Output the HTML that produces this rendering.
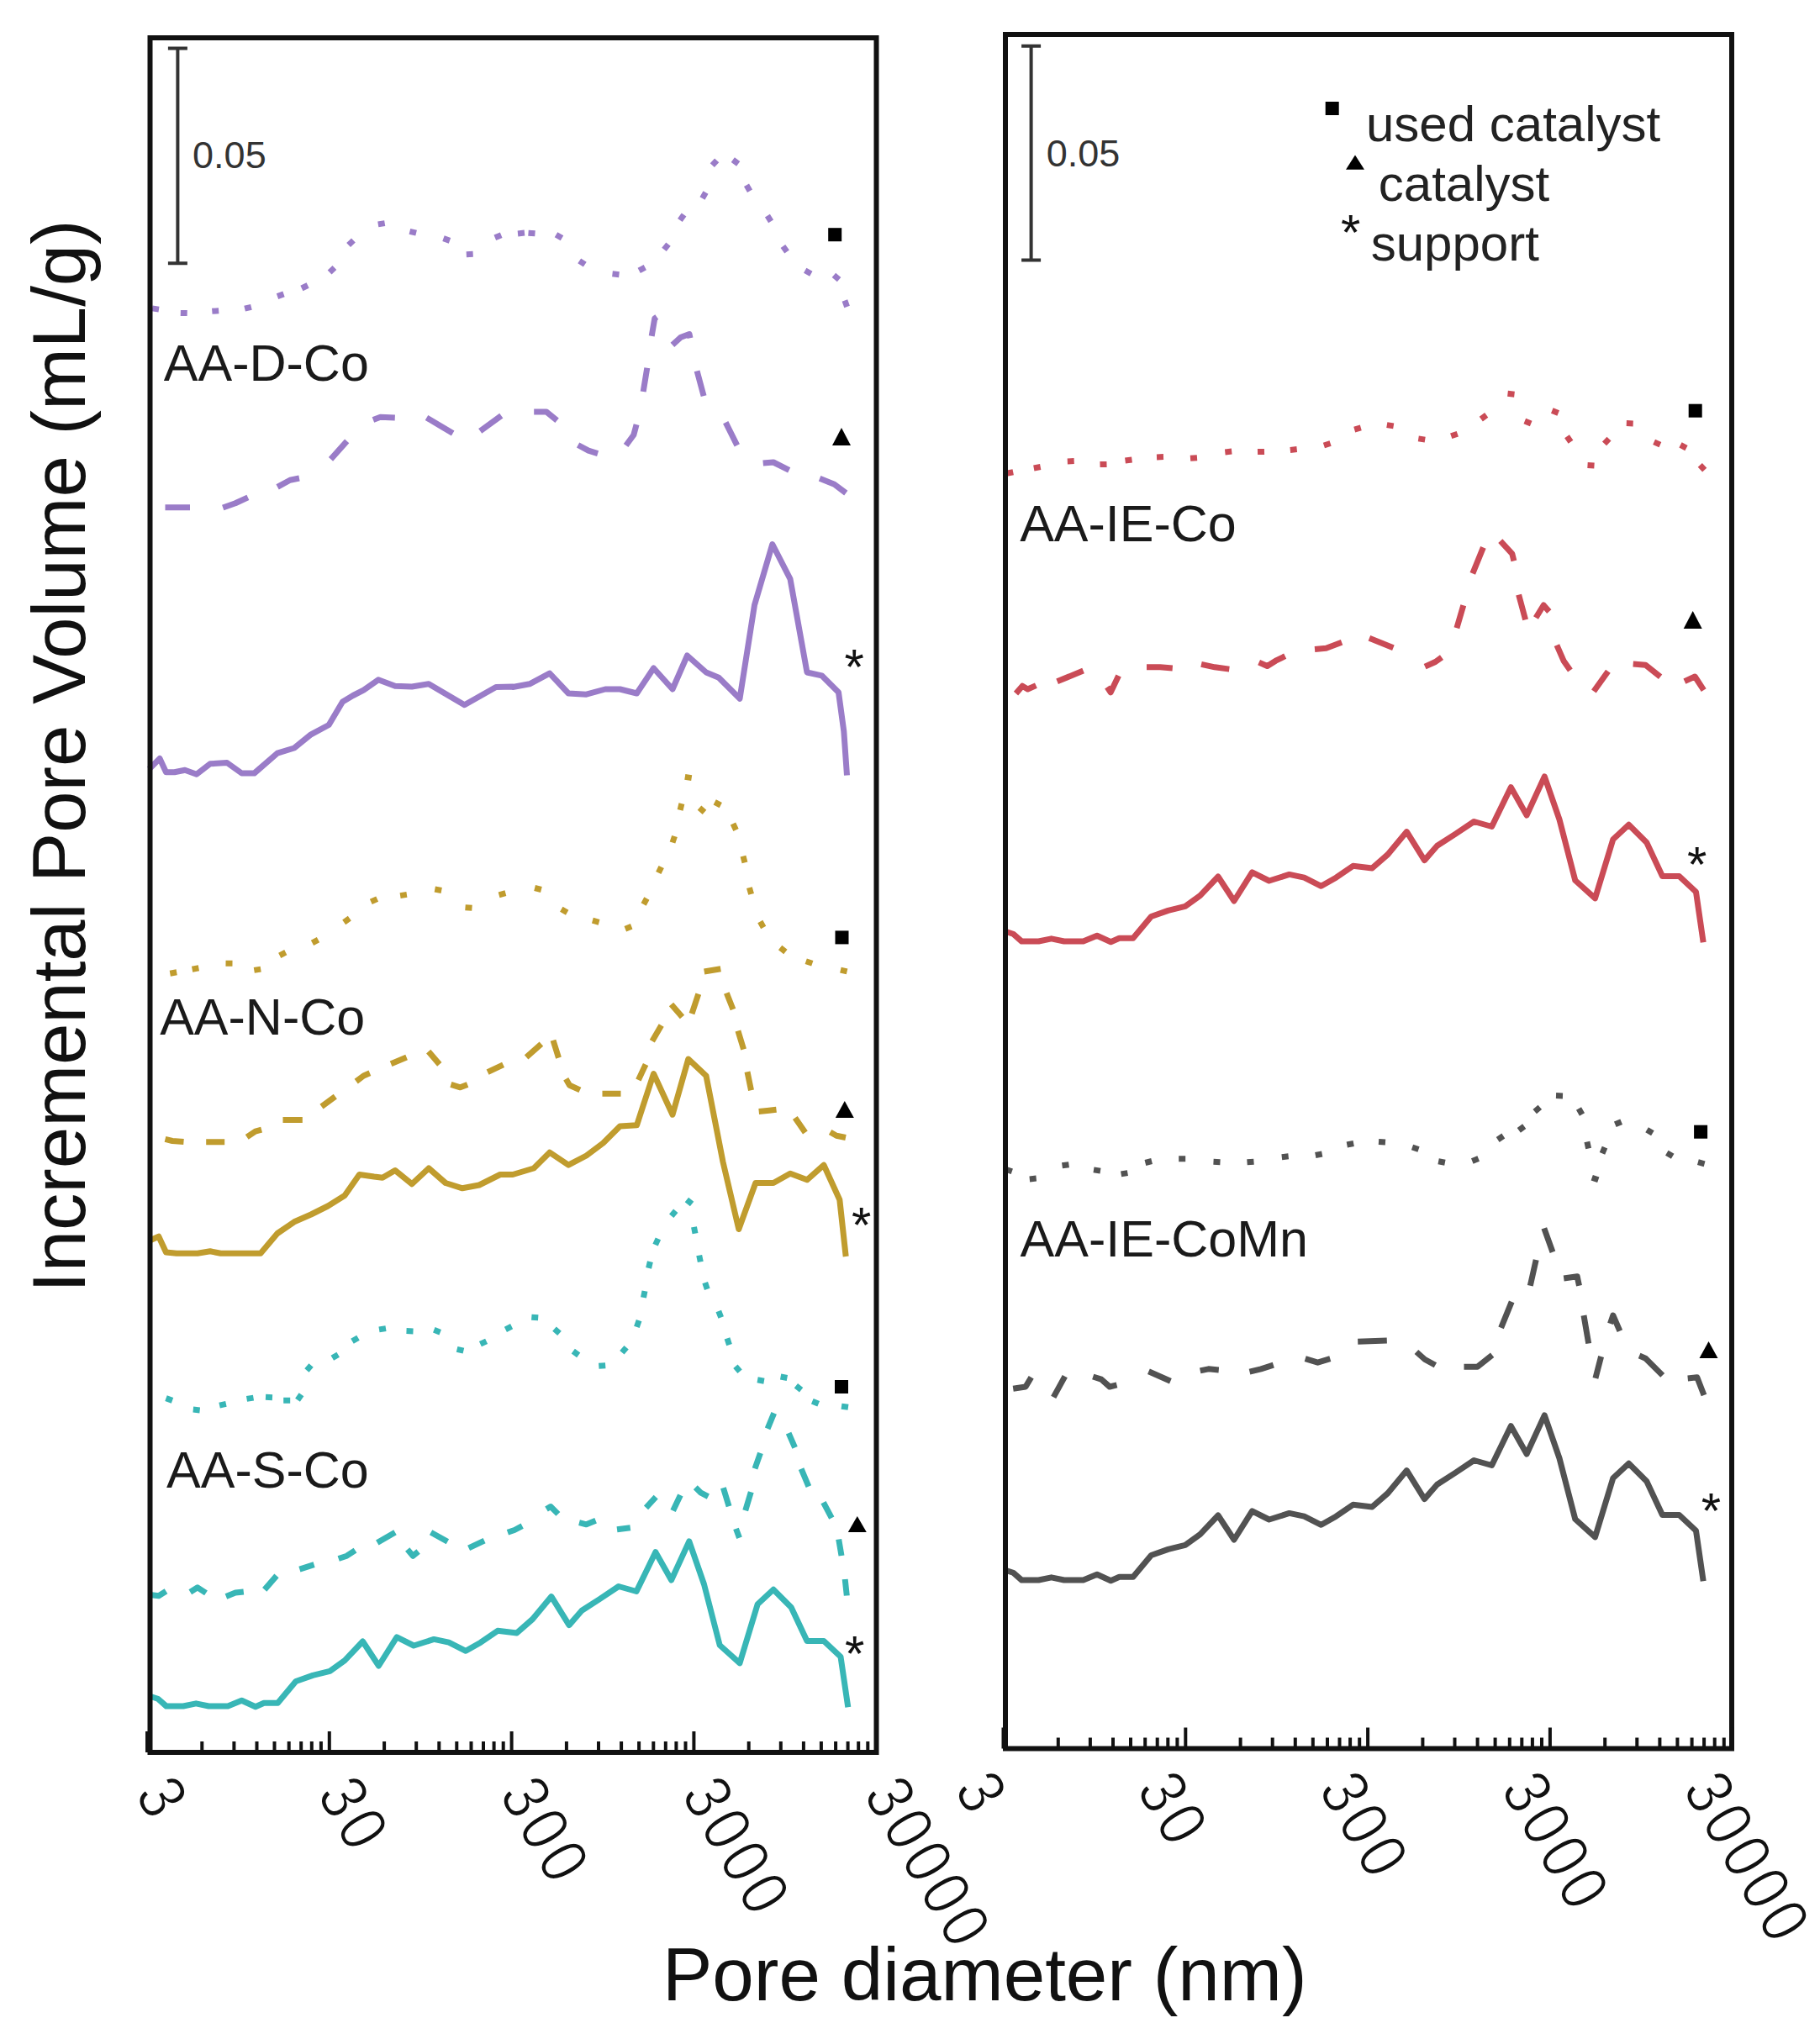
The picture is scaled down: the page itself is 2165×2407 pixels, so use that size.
<!DOCTYPE html>
<html><head><meta charset="utf-8"><title>Pore volume</title>
<style>html,body{margin:0;padding:0;background:#fff;}svg{display:block;}</style></head>
<body>
<svg xmlns="http://www.w3.org/2000/svg" width="2165" height="2407" viewBox="0 0 2165 2407">
<rect width="2165" height="2407" fill="#fff"/>
<path d="M181,366.9L189,368.1M214.8,372.4L222.7,372.6M252.3,370.3L260.2,369.7M291.1,367.2L298.9,365.3M330,352.6L337.5,349.9M358.9,343L366.1,339.5M392.1,324L397.9,318.5M414.6,291.5L420.4,286M449.8,266.9L457.7,265.6M487.4,275.3L495.1,277.2M527.5,283.6L535,286.4M554.8,302.7L562.7,302.3M588.8,282.8L596.2,279.7M616,277.9L624,277.1M628.5,277.2L636.5,277.8M661.5,279.2L668.5,283.3M689.2,310.3L695.8,314.7M728.5,325.8L736.5,326.7M760.2,321.9L767.3,318.1M790,296.9L795,290.6M808.9,262L813.6,255.5M835.5,235.9L839.5,229.1M847.3,196.7L852.7,190.8M871.8,190.1L878.2,194.9M888,220.3L892,227.2M912.9,256.6L917.1,263.4M931.4,293L936.1,299.5M957.7,321.8L964.8,325.7M991.9,327.4L998.1,332.6M1004.9,357.5L1007.6,365" fill="none" stroke="#9a7cc8" stroke-width="7"/>
<path d="M196.5,603.8L226,603.8M265.2,604L280,598.8L294.9,591.9M330.1,579.3L345,571.2L356,569M393.5,546.4L412.7,524.9M443.9,499.5L452.5,496.2L469.8,496.9M507.5,497L538.7,515.5M571.2,512.9L596.3,494.6M635.2,490L650,490L662.6,500.3M687.6,529.5L700,536.2L711.1,539.6M744.6,530L753.8,517.5L757.1,505.2M765.2,466L769.8,437.7M775.2,399.8L778.8,378.8L781.3,377.1M799.9,410.3L810,401.2L820,397.5L821,402.3M829.1,441.4L837.1,471.1M863.2,502.6L876.8,529.9M907.7,551.1L920,550L938.7,559.3M975.1,569.3L992.5,576.2L1006.3,586.6" fill="none" stroke="#9a7cc8" stroke-width="7" stroke-linejoin="round"/>
<polyline points="177.5,915 190,902.5 197.5,918.8 207.5,918.8 220,916.2 233.8,921.2 250,908.8 270,907.5 287.5,920 302.5,920 330,896.2 350,890 370,873.8 391.2,862.5 407.5,835 420,827.5 432.5,821.2 450,808.8 470,816.2 490,817 510,813.8 552.5,838.8 590,817.5 610,817 610,817.5 630,813.8 653.8,801.2 676.2,825 697.5,826.2 720,820 737.5,820 757.5,825 777.5,795 800,820 817.5,780 840,800 855,806.2 880,831.2 897.5,720 918.8,647.5 940,688.8 960,800 977.5,803.8 997.5,823.8 1003.8,870 1007.5,922.5" fill="none" stroke="#9a7cc8" stroke-width="7" stroke-linejoin="round"/>
<path d="M202.3,1158.2L210.2,1156.8M228.6,1153.2L236.4,1151.8M268.5,1146.2L276.5,1146.3M302.3,1154.4L310.2,1153.1M332.7,1136.8L339.8,1133.2M371.5,1121.9L378.5,1118.1M409.2,1097.3L415.8,1092.7M441.3,1072.9L448.7,1069.6M476.1,1065.6L483.9,1064.4M517.3,1058L525.2,1059.5M553.5,1079.7L561.5,1080.3M593.6,1064.8L601.4,1062.7M636.1,1056.5L643.9,1058.5M667.8,1081.8L674.7,1085.7M704.9,1095.2L712.6,1097.3M743.8,1105.2L751.2,1102.3M765.6,1076L769.4,1069M783.3,1038.6L786.7,1031.4M800,1002.5L802.5,995M809.1,963.9L810.9,956.1M814.8,924.4L822.7,925.6M832,961.1L838,966.4M850.2,954.4L857.3,958.1M872,980.1L875.5,987.4M884,1018.6L886,1026.4M891.4,1056.1L893.6,1063.9M904.3,1096.5L908.2,1103.5M928.1,1127.5L934.4,1132.5M958.7,1143.7L966.3,1146.3M999.9,1154.1L1007.6,1155.9" fill="none" stroke="#c09c2e" stroke-width="7"/>
<path d="M196.5,1355.4L205,1357.5L218.5,1358.6M245.2,1358.8L267.2,1358.8M293.7,1352.9L303.8,1346.2L311.1,1344.2M336.5,1332.5L359.8,1332.5M382.5,1316.6L398.8,1304.6M423.7,1286.6L432.5,1280L439.9,1276.8M465.1,1265.7L483.6,1258.1M509.7,1251.1L522.8,1266.4M536.4,1290.4L547.5,1293.8L556.1,1290.5M580.1,1275.6L598.6,1266.9M626.1,1257.8L643.9,1242.2M658,1237.7L664.5,1258.6M673.2,1283.8L677.5,1291.2L689.9,1296.9M716.5,1301.2L738.5,1301.2M759.4,1284.9L768.1,1266.4M775.8,1238.7L786.7,1220M798.5,1194.9L811.5,1210.1M823,1206.1L830.8,1182.7M837.7,1156L857.3,1152.7M864.3,1181.4L872,1201.1M877.9,1226.4L884.6,1248.6M889,1275.2L893.5,1297.3M902.7,1322.4L915,1321.2L923.5,1320.2M945.8,1330L957.9,1347.5M987.6,1347L995,1351.2L1006,1353.5" fill="none" stroke="#c09c2e" stroke-width="7" stroke-linejoin="round"/>
<polyline points="177.5,1476.2 188.8,1471.2 197.5,1490 210,1491.2 235,1491.2 250,1488.8 262.5,1491.2 285,1491.2 310,1491.2 330,1467.5 350,1453.8 370,1445 390,1435 410,1422.5 427.5,1397.5 445,1400 455,1401.2 470,1392.5 490,1408.8 510,1390 530,1407.5 550,1413.8 570,1410 595,1397.5 610,1397.5 635,1390 653.8,1371.2 676.2,1386.2 697.5,1375 717.5,1360 737.5,1340 757.5,1338.8 777.5,1277.5 800,1326.2 818.8,1260 840,1280 860,1382.5 878.8,1462.5 898.8,1407.5 920,1407.5 940,1396.2 960,1403.8 980,1386.2 998.8,1427.5 1006.2,1495" fill="none" stroke="#c09c2e" stroke-width="7" stroke-linejoin="round"/>
<path d="M197.5,1663.6L205,1666.4M229.8,1677.1L237.7,1677.9M261.1,1672.1L268.9,1670.4M293.5,1664.4L301.5,1663.1M316,1662.3L324,1662.7M337.2,1666.2L345.2,1666.2M354,1665.8L358.5,1659.2M364.9,1630.5L370.1,1624.5M395.3,1615.8L402.2,1611.7M419,1595.8L426,1591.7M451,1581.9L459,1580.6M483.5,1583.6L491.5,1583.9M516.3,1582.3L523.7,1585.2M543.6,1605.3L551.4,1607.2M571.4,1599.2L578.6,1595.8M601.4,1581.8L608.6,1578.2M632.3,1567.2L640.2,1567.8M659.5,1581.1L665.5,1586.4M681.8,1607.6L688.2,1612.4M712.3,1625.3L720.2,1624.7M739.9,1609.3L745.1,1603.2M757.4,1578.8L760.1,1571.2M765.5,1543.9L767,1536.1M771.6,1508.9L773.4,1501.1M779.6,1481.1L782.9,1473.9M798.7,1446.8L803.8,1440.7M816.9,1427.5L823.1,1432.5M825.5,1459.8L827,1467.7M831.7,1493.6L833.3,1501.4M838.7,1526.2L841.3,1533.8M854.8,1560L857.7,1567.5M865,1592.4L867.5,1600.1M874.9,1625.7L880.1,1631.8M901.1,1641.8L908.9,1643.2M928.6,1638L936.4,1639.5M946.9,1648.8L953.1,1653.7M966.3,1667.2L973.7,1670.3M1001,1673.2L1009,1674.3" fill="none" stroke="#38b6b6" stroke-width="7"/>
<path d="M180.2,1897.7L188.8,1898.8L197.5,1893.3M226.3,1894.2L235,1888.8L245,1895.4M268.9,1899.4L280,1895L289.8,1893.9M314.7,1891.4L329,1874.9M356.4,1867.1L373.6,1861.7M402.7,1854.5L412.5,1851.2L422.5,1844.6M448.8,1835.5L470,1823.3M484.7,1843.6L491.2,1851.2L497.6,1846M512.6,1823.2L532.4,1834.3M557.6,1841.9L576.1,1833.1M603.9,1823.3L612,1820.5L621.2,1815.7M650,1795.5L655,1792.5L663.9,1801.4M689,1811.6L697.5,1813.8L708.6,1809.3M734,1819.8L749.8,1817.7M768.5,1793.9L780.2,1781.1M800.6,1797.4L809.4,1778.9M827.3,1769.8L833.8,1776.2L842.4,1780.6M860.4,1770.2L867.1,1792.3M875.5,1818.9L879.5,1829.8M886.7,1797.3L893.3,1775.2M898,1747.3L904.5,1728.9M913.1,1699.9L920.7,1681.4M938.1,1705.1L945.6,1722.4M953.1,1747.6L961.9,1768.6M979.5,1787.6L989.3,1806.2M997.7,1831.5L1001,1851M1005.2,1879L1007.3,1898.5" fill="none" stroke="#38b6b6" stroke-width="7" stroke-linejoin="round"/>
<polyline points="180.1,2018.7 187.7,2021.2 197.8,2030 218,2030 233.2,2026.8 248.3,2030 271.1,2030 287.5,2023.2 303.9,2030.8 314,2026.2 330.4,2026.2 351.9,2000.5 372.1,1993.4 392.4,1988.3 410.1,1975.7 431.5,1953 450.5,1982 472,1947.9 492.2,1958 516.2,1950.4 533.9,1954.2 554.1,1964.3 571.8,1954.2 592,1940.3 614.8,1942.9 633.5,1926.5 655.9,1899.6 677,1933.6 692.1,1916.2 713.3,1902.6 735.9,1887.5 757.1,1893.5 779.8,1846.7 798.6,1880 819.8,1833.9 837.5,1885 856.2,1957.5 880,1978.8 901.2,1908.8 920,1891.2 941.2,1912.5 960,1952.5 980,1952.5 1000,1971.2 1008.8,2031.2" fill="none" stroke="#38b6b6" stroke-width="7" stroke-linejoin="round"/>
<polyline points="1197.6,1108.7 1205.2,1111.2 1215.3,1120 1235.5,1120 1250.7,1116.8 1265.8,1120 1288.6,1120 1305,1113.2 1321.4,1120.8 1331.5,1116.2 1347.9,1116.2 1369.4,1090.5 1389.6,1083.4 1409.9,1078.3 1427.6,1065.7 1449,1043 1468,1072 1489.5,1037.9 1509.7,1048 1533.7,1040.4 1551.4,1044.2 1571.6,1054.3 1589.3,1044.2 1609.5,1030.3 1632.3,1032.9 1651,1016.5 1673.4,989.6 1694.5,1023.6 1709.6,1006.2 1730.8,992.6 1753.4,977.5 1774.6,983.5 1797.3,936.7 1816.1,970 1837.3,923.9 1855,975 1873.8,1047.5 1897.5,1068.8 1918.8,998.8 1937.5,981.2 1958.8,1002.5 1977.5,1042.5 1997.5,1042.5 2017.5,1061.2 2026.2,1121.2" fill="none" stroke="#ca4b56" stroke-width="7" stroke-linejoin="round"/>
<polyline points="1197.6,1868.7 1205.2,1871.2 1215.3,1880 1235.5,1880 1250.7,1876.8 1265.8,1880 1288.6,1880 1305,1873.2 1321.4,1880.8 1331.5,1876.2 1347.9,1876.2 1369.4,1850.5 1389.6,1843.4 1409.9,1838.3 1427.6,1825.7 1449,1803 1468,1832 1489.5,1797.9 1509.7,1808 1533.7,1800.4 1551.4,1804.2 1571.6,1814.3 1589.3,1804.2 1609.5,1790.3 1632.3,1792.9 1651,1776.5 1673.4,1749.6 1694.5,1783.6 1709.6,1766.2 1730.8,1752.6 1753.4,1737.5 1774.6,1743.5 1797.3,1696.7 1816.1,1730 1837.3,1683.9 1855,1735 1873.8,1807.5 1897.5,1828.8 1918.8,1758.8 1937.5,1741.2 1958.8,1762.5 1977.5,1802.5 1997.5,1802.5 2017.5,1821.2 2026.2,1881.2" fill="none" stroke="#525252" stroke-width="7" stroke-linejoin="round"/>
<path d="M1197.3,563.3L1205.2,561.7M1229.8,557L1237.7,555.5M1269.8,548.9L1277.7,548.6M1308.5,552.6L1316.5,552.4M1338.5,548L1346.5,547M1376,543.9L1384,543.6M1416,545.3L1424,544.7M1457.3,537.9L1465.2,537.1M1496,537.6L1504,537.4M1534.8,535.4L1542.7,534.6M1574.9,530L1582.6,527.5M1611.2,511.1L1618.8,508.9M1649.8,505.6L1657.7,506.9M1687.3,521.9L1695.2,523.1M1726.2,518.8L1733.8,516.2M1761.8,498.6L1768.2,493.9M1793.5,468.3L1801.5,469.2M1813.8,501L1821.2,504M1846.3,488.5L1853.7,491.5M1864,519.2L1868.5,525.8M1888.5,553.5L1896.5,554M1908.5,527.9L1914,522.1M1934.8,503.6L1942.7,503.9M1967.6,525.9L1974.9,529.1M1999,529.4L2006,533.1M2022.3,553.3L2027.7,559.2" fill="none" stroke="#ca4b56" stroke-width="7"/>
<path d="M1208.5,825.1L1216.2,816.2L1222.5,820L1232.4,815.6M1257.6,810.7L1288.6,798.1M1317.1,817.5L1321.2,823.8L1330.6,803.9M1364,793.8L1380,793.8L1394.8,794.9M1429,790.3L1445,793.8L1462.3,796.1M1497.6,788.1L1507.5,792.5L1517.5,786.2L1528.7,780.7M1564,772.4L1577.5,771.2L1596.1,764.3M1628.9,759.3L1657.4,770.7M1695.1,793.1L1707.5,787.5L1715,782.1M1732.9,747.3L1740.8,720.2M1751.8,682.4L1764.4,651.4M1784.8,643.6L1798.8,658.8L1800.9,667.3M1806.6,707.7L1814.6,737.3M1827,735L1836.2,720L1842.8,727.6M1851.9,767.6L1860,786.2L1867.9,797.5M1895.9,822.5L1912.9,798.7M1942.7,790.1L1957.5,791.2L1975.1,805.3M2003.9,810.6L2016.2,805L2026.7,821.2" fill="none" stroke="#ca4b56" stroke-width="7" stroke-linejoin="round"/>
<path d="M1196.2,1391.2L1203.8,1393.8M1224.8,1402.9L1232.7,1402.1M1263.5,1386.8L1271.5,1385.7M1301,1391.9L1309,1393.1M1333.6,1396.9L1341.4,1395.6M1362.4,1383.5L1370.1,1381.5M1402.2,1378.8L1410.2,1378.8M1443.5,1382.3L1451.5,1382.7M1483.5,1382.8L1491.5,1382.2M1524.8,1376.7L1532.7,1375.8M1564.8,1374.5L1572.7,1373M1602.3,1362L1610.2,1360.5M1640,1358.5L1648,1359M1680,1365L1687.5,1367.5M1711.1,1381.7L1718.9,1383.3M1751.3,1381.5L1758.7,1378.5M1781.7,1356L1788.3,1351.5M1806.8,1344.9L1813.2,1340.1M1825.7,1322.6L1831.8,1317.4M1851,1303.6L1859,1303.9M1878,1319L1882,1326M1887.9,1358.6L1889.6,1366.4M1893.7,1401.2L1901.3,1403.8M1906,1372.4L1909,1365.1M1921.3,1337.8L1928.7,1334.7M1959.1,1344.2L1965.9,1348.3M1982.8,1371.7L1989.7,1375.8M2019.9,1382.7L2027.6,1384.8" fill="none" stroke="#525252" stroke-width="7"/>
<path d="M1205.2,1652.3L1220,1650L1226.7,1638.8M1253.2,1662.4L1266.8,1637.6M1300.2,1638L1310,1641.2L1320,1650L1328.5,1647.9M1366.4,1631.8L1392.4,1643.2M1427.7,1630.9L1437.5,1628.8L1449.8,1629.9M1486.5,1632.1L1500,1628.8L1514.8,1624.2M1552.7,1616.7L1567.5,1621.2L1582.3,1616.7M1615.2,1596.2L1649.8,1595M1684.9,1608.5L1695,1617.5L1707.4,1624.3M1741.5,1626.2L1757.5,1626.2L1775.1,1612.2M1785.6,1579.9L1798.2,1548.9M1820.3,1529.8L1827.2,1499M1836.8,1461.4L1847,1489.8M1860.2,1521L1876.2,1518.8L1878.5,1529.8M1884,1565.2L1889.7,1598.5M1897.9,1639.8L1904.6,1614M1915.5,1574.8L1918.8,1565L1926.9,1583.6M1950.1,1613.1L1957.5,1616.2L1977.7,1636.4M2007.7,1639.9L2018.8,1638.8L2027,1659.9" fill="none" stroke="#525252" stroke-width="7" stroke-linejoin="round"/>
<rect x="178.5" y="45" width="864.0" height="2040" fill="none" stroke="#111" stroke-width="6"/>
<rect x="1196" y="41" width="864" height="2039.5" fill="none" stroke="#111" stroke-width="6"/>
<path d="M175,2085V2060M240.3,2085V2072M278.4,2085V2072M305.5,2085V2072M326.5,2085V2072M343.7,2085V2072M358.2,2085V2072M370.8,2085V2072M381.9,2085V2072M391.8,2085V2060M457.1,2085V2072M495.2,2085V2072M522.3,2085V2072M543.3,2085V2072M560.5,2085V2072M575,2085V2072M587.6,2085V2072M598.7,2085V2072M608.6,2085V2060M673.9,2085V2072M712,2085V2072M739.1,2085V2072M760.1,2085V2072M777.3,2085V2072M791.8,2085V2072M804.4,2085V2072M815.5,2085V2072M825.4,2085V2060M890.7,2085V2072M928.8,2085V2072M955.9,2085V2072M976.9,2085V2072M994.1,2085V2072M1008.6,2085V2072M1021.2,2085V2072M1032.3,2085V2072M1042.2,2085V2060M1193.5,2080.5V2055.5M1258.8,2080.5V2067.5M1296.9,2080.5V2067.5M1324,2080.5V2067.5M1345,2080.5V2067.5M1362.2,2080.5V2067.5M1376.7,2080.5V2067.5M1389.3,2080.5V2067.5M1400.4,2080.5V2067.5M1410.3,2080.5V2055.5M1475.6,2080.5V2067.5M1513.7,2080.5V2067.5M1540.8,2080.5V2067.5M1561.8,2080.5V2067.5M1579,2080.5V2067.5M1593.5,2080.5V2067.5M1606.1,2080.5V2067.5M1617.2,2080.5V2067.5M1627.1,2080.5V2055.5M1692.4,2080.5V2067.5M1730.5,2080.5V2067.5M1757.6,2080.5V2067.5M1778.6,2080.5V2067.5M1795.8,2080.5V2067.5M1810.3,2080.5V2067.5M1822.9,2080.5V2067.5M1834,2080.5V2067.5M1843.9,2080.5V2055.5M1909.2,2080.5V2067.5M1947.3,2080.5V2067.5M1974.4,2080.5V2067.5M1995.4,2080.5V2067.5M2012.6,2080.5V2067.5M2027.1,2080.5V2067.5M2039.7,2080.5V2067.5M2050.8,2080.5V2067.5M2060.7,2080.5V2055.5" stroke="#111" stroke-width="4" fill="none"/>
<path d="M211.4,57.4V313.3M199.9,57.4H222.9M199.9,313.3H222.9M1226.6,54.8V309.5M1215.1,54.8H1238.1M1215.1,309.5H1238.1" stroke="#333" stroke-width="4" fill="none"/>
<text x="229.1" y="200" font-size="45" fill="#333" font-family="Liberation Sans, Arial, sans-serif">0.05</text>
<text x="1244.8" y="197.5" font-size="45" fill="#333" font-family="Liberation Sans, Arial, sans-serif">0.05</text>
<text x="194.8" y="453" font-size="61" fill="#1a1a1a" font-family="Liberation Sans, Arial, sans-serif">AA-D-Co</text>
<text x="190.2" y="1231" font-size="61" fill="#1a1a1a" font-family="Liberation Sans, Arial, sans-serif">AA-N-Co</text>
<text x="198.1" y="1769.5" font-size="61" fill="#1a1a1a" font-family="Liberation Sans, Arial, sans-serif">AA-S-Co</text>
<text x="1213.2" y="644" font-size="61" fill="#1a1a1a" font-family="Liberation Sans, Arial, sans-serif">AA-IE-Co</text>
<text x="1213.6" y="1495" font-size="61" fill="#1a1a1a" font-family="Liberation Sans, Arial, sans-serif">AA-IE-CoMn</text>
<text x="1625" y="167.5" font-size="60" fill="#222" font-family="Liberation Sans, Arial, sans-serif">used catalyst</text>
<text x="1639.8" y="239" font-size="60" fill="#222" font-family="Liberation Sans, Arial, sans-serif">catalyst</text>
<text x="1630.7" y="310.3" font-size="60" fill="#222" font-family="Liberation Sans, Arial, sans-serif">support</text>
<rect x="1576.7" y="121" width="16" height="16" fill="#000"/>
<path d="M1612,184.4L1623,201.8L1601,201.8Z" fill="#000"/>
<text x="1606.7" y="297.2" font-size="60" text-anchor="middle" fill="#111" font-family="Liberation Sans, Arial, sans-serif">*</text>
<rect x="985.2" y="271.2" width="16" height="16" fill="#000"/>
<path d="M1001,509L1012,530L990,530Z" fill="#000"/>
<text x="1016.2" y="813.7" font-size="60" text-anchor="middle" fill="#111" font-family="Liberation Sans, Arial, sans-serif">*</text>
<rect x="993.5" y="1107.4" width="16" height="16" fill="#000"/>
<path d="M1004.8,1310L1015.8,1330L993.8,1330Z" fill="#000"/>
<text x="1024.7" y="1477.8" font-size="60" text-anchor="middle" fill="#111" font-family="Liberation Sans, Arial, sans-serif">*</text>
<rect x="993" y="1642" width="16" height="16" fill="#000"/>
<path d="M1019.8,1804L1030.8,1823L1008.8,1823Z" fill="#000"/>
<text x="1016.7" y="1988" font-size="60" text-anchor="middle" fill="#111" font-family="Liberation Sans, Arial, sans-serif">*</text>
<rect x="2008.7" y="480.7" width="16" height="16" fill="#000"/>
<path d="M2013.7,727L2024.7,748L2002.7,748Z" fill="#000"/>
<text x="2018.7" y="1048.7" font-size="60" text-anchor="middle" fill="#111" font-family="Liberation Sans, Arial, sans-serif">*</text>
<rect x="2015.1" y="1338.7" width="16" height="16" fill="#000"/>
<path d="M2032.5,1596L2043.5,1616L2021.5,1616Z" fill="#000"/>
<text x="2035.4" y="1818" font-size="60" text-anchor="middle" fill="#111" font-family="Liberation Sans, Arial, sans-serif">*</text>
<text transform="translate(159.5,2135) rotate(60) scale(0.86,1)" font-size="80" letter-spacing="7" fill="#111" stroke="#fff" stroke-width="1.6" font-family="Liberation Sans, Arial, sans-serif">3</text>
<text transform="translate(1134.1,2129) rotate(60) scale(0.86,1)" font-size="80" letter-spacing="7" fill="#111" stroke="#fff" stroke-width="1.6" font-family="Liberation Sans, Arial, sans-serif">3</text>
<text transform="translate(376.1,2135) rotate(60) scale(0.86,1)" font-size="80" letter-spacing="7" fill="#111" stroke="#fff" stroke-width="1.6" font-family="Liberation Sans, Arial, sans-serif">30</text>
<text transform="translate(1350.7,2129) rotate(60) scale(0.86,1)" font-size="80" letter-spacing="7" fill="#111" stroke="#fff" stroke-width="1.6" font-family="Liberation Sans, Arial, sans-serif">30</text>
<text transform="translate(592.7,2135) rotate(60) scale(0.86,1)" font-size="80" letter-spacing="7" fill="#111" stroke="#fff" stroke-width="1.6" font-family="Liberation Sans, Arial, sans-serif">300</text>
<text transform="translate(1567.3,2129) rotate(60) scale(0.86,1)" font-size="80" letter-spacing="7" fill="#111" stroke="#fff" stroke-width="1.6" font-family="Liberation Sans, Arial, sans-serif">300</text>
<text transform="translate(809.3,2135) rotate(60) scale(0.86,1)" font-size="80" letter-spacing="7" fill="#111" stroke="#fff" stroke-width="1.6" font-family="Liberation Sans, Arial, sans-serif">3000</text>
<text transform="translate(1783.9,2129) rotate(60) scale(0.86,1)" font-size="80" letter-spacing="7" fill="#111" stroke="#fff" stroke-width="1.6" font-family="Liberation Sans, Arial, sans-serif">3000</text>
<text transform="translate(1025.9,2135) rotate(60) scale(0.86,1)" font-size="80" letter-spacing="7" fill="#111" stroke="#fff" stroke-width="1.6" font-family="Liberation Sans, Arial, sans-serif">30000</text>
<text transform="translate(2000.5,2129) rotate(60) scale(0.86,1)" font-size="80" letter-spacing="7" fill="#111" stroke="#fff" stroke-width="1.6" font-family="Liberation Sans, Arial, sans-serif">30000</text>
<text x="788" y="2380" font-size="89" fill="#111" font-family="Liberation Sans, Arial, sans-serif">Pore diameter (nm)</text>
<text transform="translate(101,1538) rotate(-90)" font-size="88.7" fill="#111" font-family="Liberation Sans, Arial, sans-serif">Incremental Pore Volume (mL/g)</text>
</svg>
</body></html>
